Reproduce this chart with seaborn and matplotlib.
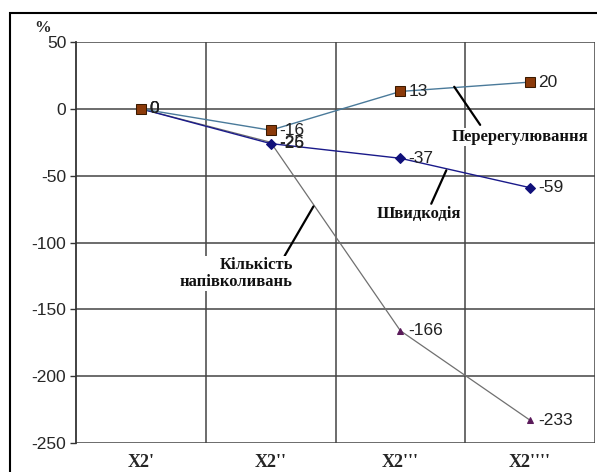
import matplotlib
matplotlib.use("Agg")
import matplotlib.pyplot as plt
import seaborn as sns
from matplotlib.patches import Rectangle

categories = ["X2'", "X2''", "X2'''", "X2''''"]
overshoot = [0, -16, 13, 20]
speed = [0, -26, -37, -59]
oscillations = [0, -25, -166, -233]
yticks = [50, 0, -50, -100, -150, -200, -250]

sns.set_theme(style="white")
plt.rcParams['font.family'] = ['Liberation Sans', 'DejaVu Sans']
plt.rcParams['axes.unicode_minus'] = False

fig = plt.figure(figsize=(5.97, 4.72), dpi=100)
ax = fig.add_axes([76/597, 1-443/472, (595-76)/597, (443-42)/472])

pos = list(range(len(categories)))

sns.lineplot(x=pos, y=oscillations, ax=ax, color="#707070", lw=0.9,
             marker="^", markersize=5, markerfacecolor="#5a1a5a", markeredgecolor="#5a1a5a", zorder=3)
sns.lineplot(x=pos, y=speed, ax=ax, color="#1a1a8a", lw=1.0,
             marker="D", markersize=5, markerfacecolor="#10107a", markeredgecolor="#10107a", zorder=4)
sns.lineplot(x=pos, y=overshoot, ax=ax, color="#4a7a9a", lw=1.0,
             marker="s", markersize=7, markerfacecolor="#8b3a0a", markeredgecolor="#3a1a00", zorder=5)

for series in (oscillations, speed, overshoot):
    for i, v in enumerate(series):
        ax.annotate(f"{v}", (i, v), xytext=(6, 0), textcoords="offset points",
                    va="center", ha="left", fontsize=12.5, color="#222222", zorder=6)

ax.set_xlim(-0.5, 3.5)
ax.set_ylim(-250, 50)
ax.set_yticks(yticks)
ax.set_xticks(pos)
ax.set_xticklabels(categories, family=['Liberation Serif'], fontweight='bold', fontsize=13)
ax.tick_params(axis='x', length=0, pad=8)
ax.tick_params(axis='y', length=4, width=1, color="#333333", labelsize=12.5, direction='out', left=True, pad=3)
for yt in yticks:
    ax.axhline(yt, color="#444444", lw=1.1, zorder=1)
for xb in [0.5, 1.5, 2.5, 3.5]:
    ax.axvline(xb, color="#444444", lw=1.1, zorder=1)
for sp in ["top", "right", "bottom"]:
    ax.spines[sp].set_visible(False)
ax.spines["left"].set_color("#333333")
ax.spines["left"].set_linewidth(1.3)

bbox = dict(facecolor="white", edgecolor="none", pad=1)
tf = dict(family=['Liberation Serif'], fontweight='bold', fontsize=12, color="#111111")
arrow = dict(arrowstyle="-", color="black", lw=1.6, shrinkA=0, shrinkB=0)
ax.annotate("", xy=(2.415, 16.5), xytext=(2.615, -12), arrowprops=arrow, zorder=7)
ax.text(2.92, -15, "Перерегулювання", ha="center", va="top", bbox=bbox, zorder=8, **tf)
ax.annotate("", xy=(2.354, -46), xytext=(2.238, -71), arrowprops=arrow, zorder=7)
ax.text(2.146, -73, "Швидкодія", ha="center", va="top", bbox=bbox, zorder=8, **tf)
ax.annotate("", xy=(1.33, -73), xytext=(1.108, -110), arrowprops=arrow, zorder=7)
ax.text(1.17, -111, "Кількість\nнапівколивань", ha="right", va="top", multialignment="right",
        linespacing=1.05, bbox=bbox, zorder=8, **tf)

fig.text(43/597, 1-28/472, "%", family=['Liberation Serif'], fontweight='bold', fontsize=12, ha="center", va="center")
fig.patches.append(Rectangle((10/597, -0.05), 1.0, 1-13/472 + 0.05, transform=fig.transFigure,
                             fill=False, edgecolor="black", lw=1.5))

fig.savefig("out.png", dpi=100)
